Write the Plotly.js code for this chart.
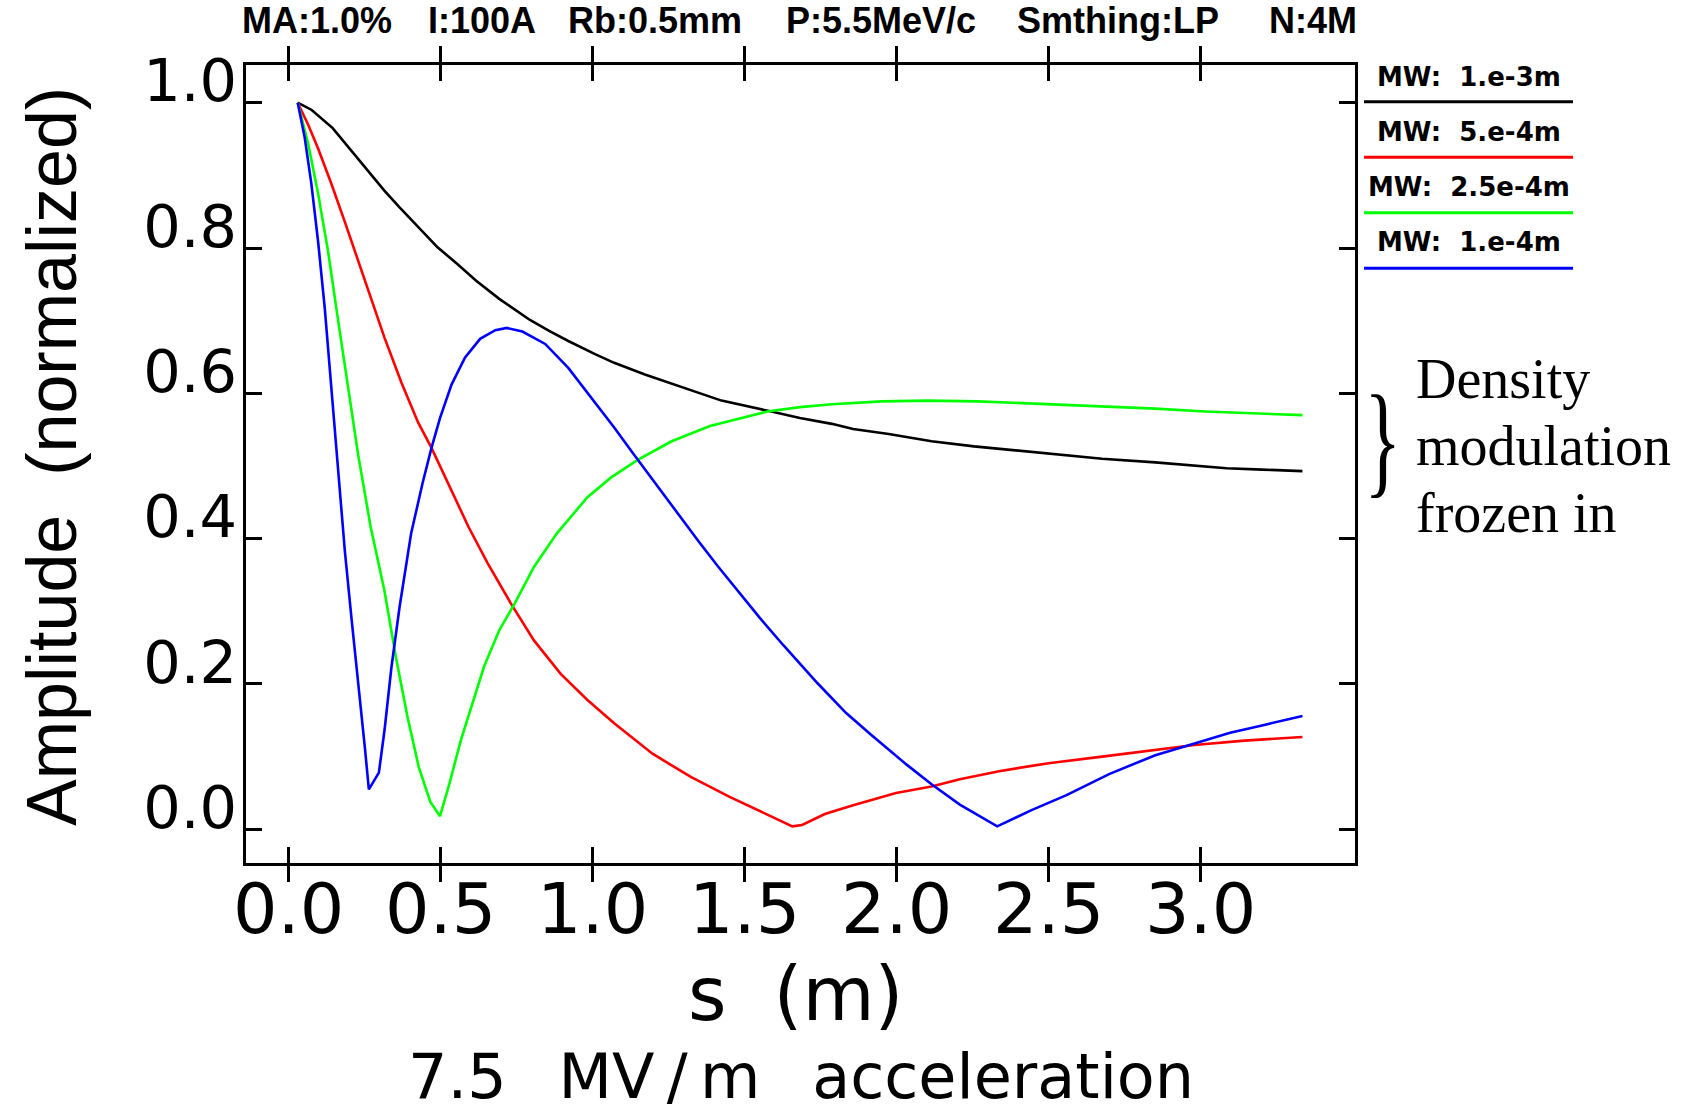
<!DOCTYPE html>
<html>
<head>
<meta charset="utf-8">
<script src="https://cdn.plot.ly/plotly-3.0.1.min.js"></script>
<style>
  html, body { margin: 0; padding: 0; background: #ffffff; }
  #chart { width: 1695px; height: 1112px; }
</style>
</head>
<body>
<div id="chart"></div>
<script>
// Normalized modulation amplitude along the beamline, s in metres,
// for four modulation wavelengths (MW).

const seriesNames = ["MW:\u00a0\u00a01.e-3m", "MW:\u00a0\u00a05.e-4m", "MW:\u00a0\u00a02.5e-4m", "MW:\u00a0\u00a01.e-4m"];
const seriesColors = ["#000000", "#ff0000", "#00ff00", "#0000ff"];

// MW = 1.e-3 m
const s_mw1e3 = [0.03, 0.076, 0.145, 0.20, 0.252, 0.315, 0.365, 0.428, 0.49, 0.555, 0.617, 0.693, 0.794, 0.857, 0.92, 1.008, 1.071, 1.172, 1.273, 1.424, 1.588, 1.682, 1.787, 1.857, 1.974, 2.115, 2.255, 2.384, 2.5, 2.676, 2.851, 2.98, 3.085, 3.202, 3.335];
const amp_mw1e3 = [1.0, 0.990, 0.965, 0.937, 0.912, 0.879, 0.856, 0.829, 0.801, 0.778, 0.755, 0.730, 0.701, 0.686, 0.672, 0.654, 0.642, 0.626, 0.612, 0.590, 0.575, 0.566, 0.558, 0.551, 0.544, 0.534, 0.527, 0.522, 0.517, 0.510, 0.505, 0.501, 0.497, 0.495, 0.493];

// MW = 5.e-4 m
const s_mw5e4 = [0.03, 0.064, 0.097, 0.141, 0.185, 0.229, 0.273, 0.316, 0.371, 0.426, 0.47, 0.525, 0.569, 0.592, 0.655, 0.731, 0.807, 0.895, 0.983, 1.071, 1.197, 1.323, 1.449, 1.575, 1.657, 1.689, 1.764, 1.857, 1.998, 2.115, 2.208, 2.337, 2.5, 2.676, 2.851, 2.98, 3.144, 3.335];
const amp_mw5e4 = [1.0, 0.970, 0.937, 0.888, 0.836, 0.782, 0.728, 0.676, 0.615, 0.560, 0.525, 0.475, 0.436, 0.416, 0.366, 0.311, 0.260, 0.214, 0.178, 0.146, 0.104, 0.072, 0.045, 0.020, 0.004, 0.006, 0.021, 0.033, 0.050, 0.059, 0.069, 0.080, 0.091, 0.100, 0.109, 0.116, 0.122, 0.127];

// MW = 2.5e-4 m
const s_mw25e5 = [0.03, 0.064, 0.097, 0.13, 0.163, 0.196, 0.229, 0.27, 0.315, 0.353, 0.391, 0.428, 0.466, 0.498, 0.529, 0.567, 0.605, 0.643, 0.693, 0.744, 0.807, 0.882, 0.983, 1.06, 1.147, 1.26, 1.386, 1.575, 1.682, 1.787, 1.951, 2.1, 2.267, 2.5, 2.676, 2.851, 3.015, 3.179, 3.335];
const amp_mw25e5 = [1.0, 0.944, 0.875, 0.795, 0.70, 0.605, 0.515, 0.416, 0.329, 0.237, 0.155, 0.086, 0.038, 0.018, 0.063, 0.123, 0.173, 0.224, 0.274, 0.311, 0.361, 0.407, 0.457, 0.484, 0.508, 0.534, 0.555, 0.575, 0.581, 0.585, 0.589, 0.590, 0.589, 0.585, 0.583, 0.579, 0.575, 0.572, 0.570];

// MW = 1.e-4 m
const s_mw1e4 = [0.03, 0.053, 0.075, 0.097, 0.119, 0.141, 0.163, 0.185, 0.207, 0.229, 0.251, 0.264, 0.297, 0.316, 0.338, 0.365, 0.403, 0.441, 0.47, 0.498, 0.536, 0.58, 0.63, 0.68, 0.718, 0.769, 0.844, 0.92, 0.996, 1.071, 1.134, 1.21, 1.273, 1.349, 1.412, 1.487, 1.55, 1.626, 1.69, 1.74, 1.834, 1.916, 2.033, 2.115, 2.208, 2.331, 2.442, 2.559, 2.699, 2.851, 2.98, 3.097, 3.202, 3.335];
const amp_mw1e4 = [1.0, 0.952, 0.888, 0.809, 0.717, 0.603, 0.489, 0.383, 0.29, 0.205, 0.112, 0.055, 0.078, 0.138, 0.222, 0.306, 0.407, 0.477, 0.525, 0.566, 0.612, 0.649, 0.675, 0.687, 0.690, 0.685, 0.668, 0.635, 0.594, 0.553, 0.517, 0.474, 0.439, 0.396, 0.362, 0.323, 0.291, 0.254, 0.224, 0.201, 0.160, 0.130, 0.089, 0.062, 0.034, 0.004, 0.026, 0.047, 0.076, 0.102, 0.118, 0.133, 0.143, 0.156];

const xTickVals = [0, 0.5, 1.0, 1.5, 2.0, 2.5, 3.0];
const yTickVals = [0, 0.2, 0.4, 0.6, 0.8, 1.0];

const headerParts = ["MA:1.0%", "I:100A", "Rb:0.5mm", "P:5.5MeV/c", "Smthing:LP", "N:4M"];
const xTitle = "s\u00a0\u00a0(m)";
const yTitle = "Amplitude\u00a0\u00a0(normalized)";
const caseLabel = "7.5\u00a0\u00a0\u2009MV\u2009/\u2009m\u00a0\u00a0\u2009acceleration";
const noteLines = ["Density", "modulation", "frozen in"];

const xs = [s_mw1e3, s_mw5e4, s_mw25e5, s_mw1e4];
const ys = [amp_mw1e3, amp_mw5e4, amp_mw25e5, amp_mw1e4];

// page geometry (pixels)
const W = 1695, H = 1112;
const M = { l: 246, r: 340, t: 65, b: 249 };
const PW = W - M.l - M.r, PH = H - M.t - M.b;
const px2x = px => (px - M.l) / PW;
const py2y = py => (H - M.b - py) / PH;

// data-to-pixel scale of the frame
const X0PX = 288.6, XUNIT = 304;     // s = 0 position, pixels per metre
const Y0PX = 829.3, YUNIT = 726.6;   // amplitude 0 position, pixels per unit
const xRange = [(M.l - X0PX) / XUNIT, (M.l + PW - X0PX) / XUNIT];
const yRange = [(Y0PX - (H - M.b)) / YUNIT, (Y0PX - M.t) / YUNIT];
const yLabelLift = 22 / YUNIT;       // labels sit just above their ticks

const headerCenters = [317, 481.5, 655, 881, 1118, 1313];

const SANS = "DejaVu Sans, Verdana, sans-serif";
const HELV = "Liberation Sans, Arial, Helvetica, sans-serif";
const SERIF = "Liberation Serif, Times New Roman, serif";

const traces = xs.map((x, i) => ({
  x: x, y: ys[i],
  type: "scatter", mode: "lines",
  name: seriesNames[i],
  line: { color: seriesColors[i], width: 2.6 },
  showlegend: false, hoverinfo: "skip"
}));
// empty trace that carries the label axis
traces.push({ x: [], y: [], type: "scatter", mode: "lines", yaxis: "y2", showlegend: false, hoverinfo: "skip" });

const annotations = [];
const shapes = [];

headerParts.forEach((t, i) => {
  annotations.push({
    xref: "paper", yref: "paper", x: px2x(headerCenters[i]), y: py2y(21),
    xanchor: "center", yanchor: "middle", showarrow: false,
    text: t, font: { family: HELV, size: 36, color: "#000", weight: "bold" }
  });
});

// legend: label above a short coloured rule
seriesNames.forEach((nm, i) => {
  annotations.push({
    xref: "paper", yref: "paper", x: px2x(1468.5), y: py2y(77 + i * 55),
    xanchor: "center", yanchor: "middle", showarrow: false,
    text: nm, font: { family: SANS, size: 26, color: "#000", weight: "bold" }
  });
  const ly = py2y(101.7 + i * 55.5);
  shapes.push({
    type: "line", xref: "paper", yref: "paper",
    x0: px2x(1364), x1: px2x(1573), y0: ly, y1: ly,
    line: { color: seriesColors[i], width: 3 }
  });
});

// brace and note
annotations.push({
  xref: "paper", yref: "paper", x: px2x(1383), y: py2y(439),
  xanchor: "center", yanchor: "middle", showarrow: false,
  text: "}", font: { family: SERIF, size: 124, color: "#000" }
});
noteLines.forEach((t, i) => {
  annotations.push({
    xref: "paper", yref: "paper", x: px2x(1414), y: py2y(379 + i * 67),
    xanchor: "left", yanchor: "middle", showarrow: false,
    text: t, font: { family: SERIF, size: 56, color: "#000" }
  });
});

// axis titles and case label
annotations.push({
  xref: "paper", yref: "paper", x: px2x(52), y: py2y(457),
  xanchor: "center", yanchor: "middle", showarrow: false, textangle: -90,
  text: yTitle, font: { family: HELV, size: 70, color: "#000" }
});
annotations.push({
  xref: "paper", yref: "paper", x: px2x(795), y: py2y(994),
  xanchor: "center", yanchor: "middle", showarrow: false,
  text: xTitle, font: { family: SANS, size: 74, color: "#000" }
});
annotations.push({
  xref: "paper", yref: "paper", x: px2x(800.5), y: py2y(1076),
  xanchor: "center", yanchor: "middle", showarrow: false,
  text: caseLabel, font: { family: SANS, size: 62, color: "#000" }
});

const axisCommon = {
  showline: true, linewidth: 3, linecolor: "#000", mirror: "allticks",
  ticks: "inside", ticklen: 16, tickwidth: 3, tickcolor: "#000",
  showgrid: false, zeroline: false, tickformat: ".1f"
};

const layout = {
  width: W, height: H,
  margin: M,
  paper_bgcolor: "#ffffff", plot_bgcolor: "#ffffff",
  showlegend: false,
  xaxis: Object.assign({}, axisCommon, {
    range: xRange,
    tickmode: "array", tickvals: xTickVals,
    tickfont: { family: SANS, size: 70, color: "#000" },
    ticklabelstandoff: -17
  }),
  yaxis: Object.assign({}, axisCommon, {
    range: yRange,
    tickmode: "array", tickvals: yTickVals,
    showticklabels: false
  }),
  // label-only axis, shifted so each label sits above its tick
  yaxis2: {
    overlaying: "y", side: "left", anchor: "x",
    range: [yRange[0] - yLabelLift, yRange[1] - yLabelLift],
    tickmode: "array", tickvals: yTickVals, tickformat: ".1f",
    ticks: "", showline: false, showgrid: false, zeroline: false,
    tickfont: { family: SANS, size: 59, color: "#000" },
    ticklabelstandoff: 8
  },
  annotations: annotations,
  shapes: shapes
};

Plotly.newPlot("chart", traces, layout, { staticPlot: true, displayModeBar: false }).then(gd => {
  // narrow the tall brace glyph
  gd.querySelectorAll("g.annotation").forEach(g => {
    const t = g.querySelector("text.annotation-text");
    if (t && t.textContent === "}") {
      const b = t.getBBox();
      const cx = b.x + b.width / 2, cy = b.y + b.height / 2;
      const prev = t.getAttribute("transform") || "";
      t.setAttribute("transform", prev + " translate(" + cx + "," + cy + ") scale(0.62,1) translate(" + (-cx) + "," + (-cy) + ")");
    }
  });
});
</script>
</body>
</html>
